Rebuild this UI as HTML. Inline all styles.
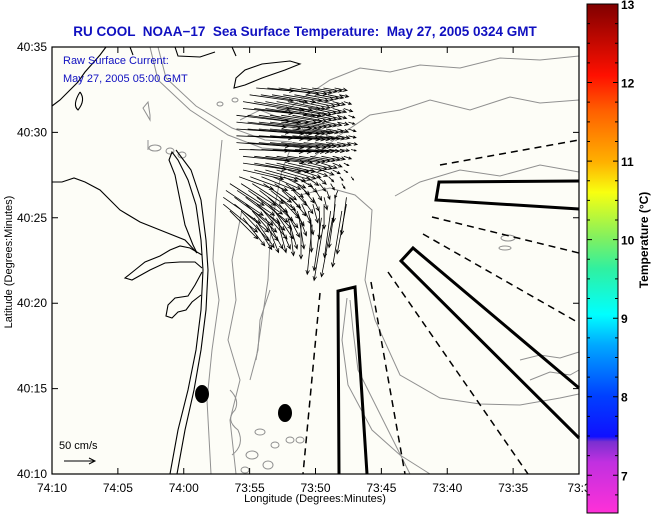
<!DOCTYPE html>
<html><head><meta charset="utf-8"><style>
html,body{margin:0;padding:0;background:#fff;}
svg text{font-family:"Liberation Sans",sans-serif;}
</style></head><body>
<svg id="chart" width="651" height="515" viewBox="0 0 651 515" xmlns="http://www.w3.org/2000/svg">
<defs>
<linearGradient id="cbar" x1="0" y1="1" x2="0" y2="0">
<stop offset="0" stop-color="#ff30d8"/>
<stop offset="0.1" stop-color="#c030e0"/>
<stop offset="0.14" stop-color="#7a30d0"/>
<stop offset="0.15" stop-color="#1010ff"/>
<stop offset="0.23" stop-color="#0040ff"/>
<stop offset="0.33" stop-color="#00a8ff"/>
<stop offset="0.39" stop-color="#00ffff"/>
<stop offset="0.48" stop-color="#30f0a0"/>
<stop offset="0.54" stop-color="#80f060"/>
<stop offset="0.63" stop-color="#f8ff10"/>
<stop offset="0.69" stop-color="#ffb000"/>
<stop offset="0.79" stop-color="#ff6000"/>
<stop offset="0.86" stop-color="#ff1000"/>
<stop offset="1" stop-color="#800000"/>
</linearGradient>
</defs>
<text x="305" y="36" text-anchor="middle" font-size="13.5" font-weight="bold" fill="#1010c0" style="white-space:pre">RU COOL  NOAA−17  Sea Surface Temperature:  May 27, 2005 0324 GMT</text>
<rect x="52" y="47" width="527" height="427" fill="#fdfdf7"/>
<g id="contours" fill="none" stroke="#909090" stroke-width="1">
<path d="M579 56 L540 60 500 58 460 68 420 65 390 72 360 68 330 80 300 100 285 112"/>
<path d="M579 100 L540 103 510 97 470 110 430 100 400 110 370 115 340 135 310 160 295 170"/>
<path d="M579 172 L540 165 500 176 460 170 420 182 395 196"/>
<path d="M300 195 L330 188 355 195 372 210 370 240 365 280 375 320 400 375 440 398 480 404 520 405 560 398 579 394"/>
<path d="M347 298 L342 340 348 385 372 430 400 455 430 474"/>
<path d="M350 300 L353 330 358 370 378 410 410 474"/>
<path d="M222 140 L216 200 213 260 219 300 212 350 207 400 211 474"/>
<path d="M242 210 L232 260 236 300 228 340 240 380 230 420 236 474"/>
<path d="M150 47 L158 80 190 110 228 135 262 148 290 150"/>
<path d="M158 47 L166 78 196 106 232 128 265 140 292 142"/>
<path d="M240 120 L260 110 280 118 300 125 310 140"/>
<path d="M290 150 L282 170 276 200 270 240 268 280 262 320 256 360"/>
<path d="M270 290 L260 320 258 350 250 380"/>
<ellipse cx="155" cy="148" rx="6" ry="3"/><ellipse cx="170" cy="151" rx="4" ry="3"/><ellipse cx="182" cy="155" rx="4" ry="3"/>
<path d="M148 102 L150 115 150 120 143 108 Z"/>
<path d="M148 140 L148 150"/>
<ellipse cx="220" cy="104" rx="3" ry="2"/><ellipse cx="235" cy="100" rx="3" ry="2"/>
<path d="M230 390 Q240 400 235 410 Q225 420 238 430 Q245 445 232 455"/>
<ellipse cx="260" cy="432" rx="5" ry="3"/><ellipse cx="275" cy="445" rx="4" ry="3"/><ellipse cx="252" cy="455" rx="6" ry="4"/>
<ellipse cx="290" cy="440" rx="4" ry="3"/><ellipse cx="268" cy="465" rx="5" ry="4"/><ellipse cx="245" cy="470" rx="4" ry="3"/>
<ellipse cx="300" cy="440" rx="4" ry="3"/><ellipse cx="508" cy="238" rx="7" ry="3"/><ellipse cx="505" cy="248" rx="6" ry="2"/>
<path d="M520 360 L540 355 560 358 579 352"/><path d="M530 380 L550 372 570 375 579 370"/>
</g>
<g id="coast" fill="none" stroke="#000" stroke-width="1.1">
<path d="M170 474 L178 430 188 390 196 350 201 310 203 270 201 240 196 205 188 180 178 160 172 152 169 160 175 175 180 200 185 225 193 245 197 253"/>
<path d="M177 474 L185 430 194 390 201 350 206 310 208 270 206 240 201 200 191 170 176 150"/>
<path d="M197 253 L185 240 160 230 140 222 120 210 100 190 85 182 74 178 62 182 52 182"/>
<path d="M202 255 L190 248 180 246 170 250 160 256 145 262 135 270 125 278 132 280 150 270 165 263 180 262 195 262 202 268"/>
<path d="M202 272 L195 285 188 296 175 298 168 305 166 316 172 318 178 312 186 310 192 302 201 295"/>
<path d="M52 106 L60 100 70 90 78 82 85 72 93 63 100 55 106 47"/>
<path d="M234 88 L236 78 245 70 262 64 290 61 300 64 285 70 262 78 245 85 Z"/>
<path d="M175 47 L178 56 200 57 215 52"/><path d="M232 47 L236 56"/><path d="M130 47 L133 55"/>
<path d="M80 92 Q72 105 78 110 Q86 100 80 92"/>
</g>
<g id="lines" fill="none" stroke="#000" stroke-width="1.5" stroke-dasharray="7,5">
<path d="M440 165 L579 140"/><path d="M432 217 L579 253"/><path d="M423 234 L579 323"/>
<path d="M388 272 L528 474"/><path d="M371 282 L405 474"/><path d="M320 293 L303 474"/>
</g>
<g id="boxes" fill="none" stroke="#000" stroke-width="3">
<path d="M339 474 L338 291 355 287 367 474"/>
<path d="M579 181 L439 182 436 200 579 209"/>
<path d="M579 388 L413 248 401 261 579 438"/>
</g>
<ellipse cx="202" cy="394" rx="7" ry="9" fill="#000"/>
<ellipse cx="285" cy="413" rx="7" ry="9" fill="#000"/>
<g id="arrows" stroke="#000" stroke-width="0.8" fill="none"></g>
<text x="63" y="64" font-size="11" fill="#1010c0">Raw Surface Current:</text>
<text x="63" y="82" font-size="11" fill="#1010c0">May 27, 2005 05:00 GMT</text>
<text x="59" y="449" font-size="11" fill="#000">50 cm/s</text>
<g id="scale-arrow" stroke="#000" fill="none"><path d="M64 461 L95 461 M89 458 L95 461 89 464"/></g>
<rect x="52" y="47" width="527" height="427" fill="none" stroke="#000" stroke-width="1.2"/>
<g id="axes"></g>
<text x="315" y="502" text-anchor="middle" font-size="11">Longitude (Degrees:Minutes)</text>
<text transform="translate(12,262) rotate(-90)" text-anchor="middle" font-size="11">Latitude (Degrees:Minutes)</text>
<rect x="587" y="4" width="31" height="509" fill="url(#cbar)" stroke="#000" stroke-width="1"/>
<g id="cbticks"></g>
<text transform="translate(648,240) rotate(-90)" text-anchor="middle" font-size="12" font-weight="bold">Temperature (°C)</text>
</svg>
<script>
const xTickLabels = ["74:10","74:05","74:00","73:55","73:50","73:45","73:40","73:35","73:3"];
const yTickLabels = ["40:10","40:15","40:20","40:25","40:30","40:35"];
const cbLabels = [7,8,9,10,11,12,13];
const cbMin = 6.52, cbMax = 13;
const rowLat = [22.6,22.2,21.8,21.4,21.0,20.6,20.2,19.8,19.4,19.0,18.6,18.2,17.8,17.4,17.0,16.6,16.2,15.8,15.4,15.0,14.6];
const rowStartLon = [15.5,15,14.5,14.5,14,14,14,14,14,14.2,14.5,14.5,14.5,14.2,13.5,13.2,13,13,13.5,14.5,15.5];
const rowU = [
[60,70,65,60,50,40,30,20],
[70,75,70,62,55,45,35,25,15],
[75,80,75,70,60,50,40,30,20,12],
[80,85,80,72,62,52,42,32,22,14],
[85,85,80,75,65,55,45,35,25,15,10],
[80,85,85,75,65,55,45,35,25,18,10],
[85,90,85,80,70,60,48,38,28,18,12],
[90,90,85,80,70,60,50,40,30,20,12],
[85,90,85,80,72,62,52,42,32,22,14],
[80,85,80,75,65,55,45,35,25,15,8],
[75,80,75,70,60,50,40,30,20,12],
[70,75,70,62,55,45,35,25,15,8],
[65,70,65,55,45,35,28,20,12,6],
[55,60,55,45,35,28,20,14,8,5,4],
[55,55,50,45,35,28,20,14,10,6,5],
[60,60,55,45,40,30,22,16,10,5,-5],
[60,62,55,50,40,32,25,18,10,5,-3,-8],
[55,55,50,45,38,30,22,15,8,0,-10,-15],
[45,45,42,38,30,22,15,8,0,-10,-15],
[35,32,28,22,15,8,2,-12,-18],
[25,18,12,6,0,-8,-15]];
const rowV = [
[-5,-8,-10,-10,-8,-6,-5,-4],
[-10,-12,-12,-10,-10,-8,-6,-5,-3],
[-12,-14,-14,-12,-12,-10,-8,-6,-5,-4],
[-8,-10,-12,-12,-10,-10,-8,-7,-6,-5],
[-10,-12,-12,-12,-10,-10,-8,-7,-6,-5,-4],
[-8,-10,-10,-10,-9,-8,-7,-6,-5,-4,-3],
[-6,-8,-8,-8,-8,-7,-6,-6,-5,-5,-4],
[-4,-5,-6,-6,-6,-6,-5,-5,-5,-4,-3],
[-6,-8,-8,-8,-8,-7,-6,-6,-5,-4,-3],
[-2,-4,-4,-4,-4,-4,-3,-3,-3,-2,-2],
[-8,-10,-10,-10,-9,-8,-7,-6,-5,-4],
[-10,-14,-14,-14,-12,-10,-9,-8,-6,-4],
[-15,-18,-18,-16,-14,-12,-10,-8,-6,-4],
[-20,-22,-22,-20,-18,-16,-14,-12,-8,-6,-5],
[-35,-35,-32,-30,-26,-22,-18,-14,-12,-10,-8],
[-40,-40,-38,-35,-32,-28,-24,-20,-16,-14,-12],
[-42,-45,-42,-40,-38,-34,-30,-26,-22,-20,-40,-60],
[-45,-45,-45,-42,-40,-38,-35,-32,-30,-40,-70,-80],
[-45,-48,-48,-45,-45,-42,-40,-38,-45,-75,-90],
[-45,-48,-50,-50,-50,-50,-55,-85,-95],
[-40,-45,-45,-50,-55,-80,-90]];
const colStep = 0.85;
const NS = "http://www.w3.org/2000/svg";
const X0 = 52, X1 = 579, Y0 = 474, Y1 = 47;
function xScale(m){ return X0 + m * (X1 - X0) / 40; }
function yScale(m){ return Y0 - m * (Y0 - Y1) / 25; }
function cbScale(t){ return 513 - (t - cbMin) * 509 / (cbMax - cbMin); }
const pxPerCm = 31 / 50;
function mk(tag, attrs, parent){ const e = document.createElementNS(NS, tag); for (const k in attrs) e.setAttribute(k, attrs[k]); parent.appendChild(e); return e; }
const ag = document.getElementById('arrows');
rowLat.forEach((lat, r) => {
  rowU[r].forEach((u, c) => {
    const v = rowV[r][c];
    const x = xScale(rowStartLon[r] + c * colStep), y = yScale(lat);
    const dx = u * pxPerCm, dy = -v * pxPerCm;
    const L = Math.hypot(dx, dy) || 1;
    const ux = dx / L, uy = dy / L, h = Math.min(4, L * 0.35);
    const tx = x + dx, ty = y + dy;
    const p = mk('path', {d: `M${x} ${y} L${tx} ${ty} M${tx - ux*h - uy*h*0.45} ${ty - uy*h + ux*h*0.45} L${tx} ${ty} L${tx - ux*h + uy*h*0.45} ${ty - uy*h - ux*h*0.45}`}, ag);
    
    
  });
});
const ax = document.getElementById('axes');
xTickLabels.forEach((lab, i) => {
  const x = xScale(i * 5);
  mk('path', {d: `M${x} ${Y0} L${x} ${Y0-6} M${x} ${Y1} L${x} ${Y1+6}`, stroke: '#000'}, ax);
  const t = mk('text', {x: x, y: 492, 'text-anchor': 'middle', 'font-size': 12}, ax);
  t.textContent = lab;
  
  
});
yTickLabels.forEach((lab, i) => {
  const y = yScale(i * 5);
  mk('path', {d: `M${X0} ${y} L${X0+6} ${y} M${X1} ${y} L${X1-6} ${y}`, stroke: '#000'}, ax);
  const t = mk('text', {x: 47, y: y + 4, 'text-anchor': 'end', 'font-size': 12}, ax);
  t.textContent = lab;
  
  
});
const cb = document.getElementById('cbticks');
for (let t = 6.75; t <= 13.001; t += 0.25) {
  const y = cbScale(t);
  const len = Math.abs(t - Math.round(t)) < 0.01 ? 5 : 3;
  mk('path', {d: `M587 ${y} L${587+len} ${y} M618 ${y} L${618-len} ${y}`, stroke: '#000'}, cb);
}
cbLabels.forEach(v => {
  const t = mk('text', {x: 621, y: cbScale(v) + 5, 'font-size': 12, 'font-weight': 'bold'}, cb);
  t.textContent = String(v);
  
  
});
</script>
</body></html>
